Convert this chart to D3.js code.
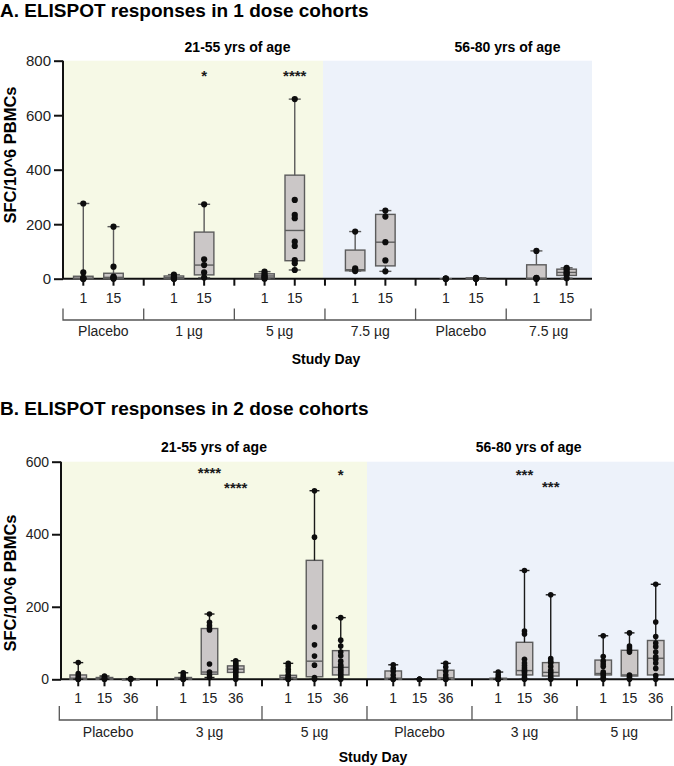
<!DOCTYPE html>
<html>
<head>
<meta charset="utf-8">
<script src="https://cdn.jsdelivr.net/npm/d3@7"></script>
<style>
  body { margin: 0; background: #fff; }
  svg { display: block; font-family: "Liberation Sans", Arial, sans-serif; }
</style>
</head>
<body>
<div id="chart"></div>
<script>
// ---- data ----
const ageLabels = ["21-55 yrs of age", "56-80 yrs of age"];

const groupsA = ["Placebo", "1 \u00b5g", "5 \u00b5g", "7.5 \u00b5g", "Placebo", "7.5 \u00b5g"];
const daysA = ["1", "15"];
// individual responses, one list per box (group x day)
const pointsA = [
  [276, 23, 3, 0, 0, 0], [191, 44, 8, 5, 2, 0],
  [15, 9, 4, 0, 0], [273, 71, 50, 23, 4],
  [26, 18, 12, 8, 3, 0], [659, 289, 234, 222, 136, 120, 68, 57, 32],
  [173, 38, 32, 28], [250, 228, 134, 67, 27],
  [0, 0, 0], [3, 1, 0, 0],
  [102, 3, 2, 0, 0], [40, 35, 26, 20, 15, 2]
];
// [q1, median, q3]
const boxA = [
  [0, 2, 9], [1, 5, 20],
  [0, 4, 10], [14, 50, 171],
  [3, 10, 18], [66, 177, 380],
  [29, 33, 105], [47, 134, 236],
  null, [0, 1, 3],
  [0, 2, 51], [12, 23, 35]
];
const starsA = [
  { i: 3, text: "*", v: 756 },
  { i: 5, text: "****", v: 756 }
];
const yTicksA = [0, 200, 400, 600, 800];

const groupsB = ["Placebo", "3 \u00b5g", "5 \u00b5g", "Placebo", "3 \u00b5g", "5 \u00b5g"];
const daysB = ["1", "15", "36"];
const pointsB = [
  [46, 16, 9, 3, 0, 0], [9, 6, 3, 0, 0], [2, 0, 0],
  [18, 12, 6, 2, 0, 0], [180, 157, 148, 140, 136, 42, 20, 12, 5], [51, 46, 42, 38, 33, 30, 26, 22, 18, 12, 6, 0],
  [44, 37, 28, 21, 12, 8, 4, 0, 0], [520, 392, 144, 95, 64, 39, 5, 0], [170, 108, 92, 75, 65, 50, 40, 35, 30, 25, 20, 15, 10, 5, 0],
  [40, 30, 22, 12, 3, 0, 0], [0, 0, 0, 0], [44, 34, 22, 12, 4, 0, 0],
  [20, 12, 5, 0, 0, 0], [300, 133, 125, 55, 45, 38, 32, 26, 22, 18, 12, 5, 0], [233, 57, 50, 45, 35, 25, 18, 12, 5, 0],
  [120, 63, 50, 42, 35, 20, 15, 12, 5, 0], [128, 92, 86, 80, 75, 12, 8, 3, 0], [262, 158, 118, 100, 90, 75, 62, 55, 45, 30, 10, 0]
];
const boxB = [
  [0, 3, 12], [0, 2, 5], [0, 0, 1],
  [0, 2, 5], [14, 20, 140], [19, 28, 37],
  [1, 5, 11], [7, 50, 328], [12, 33, 79],
  [0, 3, 23], null, [0, 4, 25],
  [0, 0, 3], [12, 24, 102], [9, 19, 46],
  [12, 16, 53], [9, 12, 80], [12, 58, 107]
];
const starsB = [
  { i: 4, text: "****", v: 578 },
  { i: 5, text: "****", v: 537 },
  { i: 8, text: "*", v: 573 },
  { i: 13, text: "***", v: 573 },
  { i: 14, text: "***", v: 541 }
];
const yTicksB = [0, 200, 400, 600];

// ---- drawing ----
const width = 674, height = 766;
const greenBg = "#f6f9e6", blueBg = "#edf2fa";
const boxFill = "#cbc7c7", boxStroke = "#5c5c5c";

const svg = d3.select("#chart").append("svg")
  .attr("width", width).attr("height", height)
  .attr("viewBox", [0, 0, width, height]);

function drawPanel(p) {
  const nDays = p.days.length;
  const per = nDays + 1; // one empty slot between groups
  const slot = i => i + Math.floor(i / nDays);

  const x = d3.scaleLinear().domain(p.xDomain).range([p.left, p.right]);
  const y = d3.scaleLinear().domain([0, p.yMax]).range([p.bottom, p.top]);
  const mid = x(p.groups.length / 2 * per - 1) + p.bgShift;

  const g = svg.append("g");

  // title
  g.append("text")
    .attr("x", 0).attr("y", p.titleY)
    .attr("font-size", 19).attr("font-weight", "bold")
    .text(p.title);

  // backgrounds
  g.append("rect").attr("x", p.left).attr("y", p.top)
    .attr("width", mid - p.left).attr("height", p.bottom - p.top).attr("fill", greenBg);
  g.append("rect").attr("x", mid).attr("y", p.top)
    .attr("width", p.right - mid).attr("height", p.bottom - p.top).attr("fill", blueBg);

  // age labels
  g.selectAll(".age").data(ageLabels).join("text")
    .attr("x", (d, i) => p.ageX[i]).attr("y", p.ageY)
    .attr("text-anchor", "middle").attr("font-size", 14).attr("font-weight", "bold")
    .text(d => d);

  // y axis
  const yAxis = g.append("g")
    .attr("transform", `translate(${p.left},0)`)
    .call(d3.axisLeft(y).tickValues(p.yTicks).tickSize(9).tickPadding(3));
  yAxis.select(".domain").attr("stroke", "#111").attr("stroke-width", 2)
    .attr("d", `M0,${p.bottom}V${p.top}`);
  yAxis.selectAll(".tick line").attr("stroke", "#111").attr("stroke-width", 2);
  yAxis.selectAll(".tick text").attr("font-size", p.yFont).attr("fill", "#222")
    .attr("font-family", "Liberation Sans, Arial, sans-serif");

  // x axis line and ticks
  const nSlots = p.groups.length * per - 1;
  g.append("line")
    .attr("x1", p.left).attr("x2", Math.min(p.right, x(nSlots - 0.15)))
    .attr("y1", p.bottom).attr("y2", p.bottom)
    .attr("stroke", "#111").attr("stroke-width", 2);
  g.selectAll(".xt").data(d3.range(nSlots)).join("line")
    .attr("x1", d => x(d)).attr("x2", d => x(d))
    .attr("y1", p.bottom).attr("y2", p.bottom + 7)
    .attr("stroke", "#111").attr("stroke-width", 2);

  // day labels
  const boxes = p.points.map((pts, i) => ({ pts, box: p.box[i], k: slot(i), day: p.days[i % nDays] }));
  g.selectAll(".day").data(boxes).join("text")
    .attr("x", d => x(d.k)).attr("y", p.dayY)
    .attr("text-anchor", "middle").attr("font-size", 14).attr("fill", "#222")
    .text(d => d.day);

  // group brackets
  const edges = d3.range(p.groups.length + 1).map(j => j === 0 ? p.left - p.bracketPad
    : j === p.groups.length ? p.bracketRight : x(j * per - 1));
  g.append("path")
    .attr("fill", "none").attr("stroke", "#555").attr("stroke-width", 1.3)
    .attr("d", `M${edges[0]},${p.bracketY1}V${p.bracketY2}H${edges[edges.length - 1]}V${p.bracketY1}` +
      edges.slice(1, -1).map(e => `M${e},${p.bracketY1}V${p.bracketY2}`).join(""));
  g.selectAll(".grp").data(p.groups).join("text")
    .attr("x", (d, j) => (edges[j] + edges[j + 1]) / 2).attr("y", p.groupY)
    .attr("text-anchor", "middle").attr("font-size", 14).attr("fill", "#222")
    .text(d => d);

  // axis titles
  g.append("text")
    .attr("x", p.studyX).attr("y", p.studyY)
    .attr("text-anchor", "middle").attr("font-size", 14).attr("font-weight", "bold")
    .text("Study Day");
  g.append("text")
    .attr("transform", `translate(${p.yTitleX},${p.yTitleY}) rotate(-90)`)
    .attr("text-anchor", "middle").attr("dominant-baseline", "central")
    .attr("font-size", 16.5).attr("font-weight", "bold")
    .text("SFC/10^6 PBMCs");

  // boxes
  const bw = p.boxW, cw = p.capW;
  const bg = g.selectAll(".bx").data(boxes).join("g");
  bg.filter(d => d.box).append("rect")
    .attr("x", d => x(d.k) - bw / 2).attr("width", bw)
    .attr("y", d => y(d.box[2])).attr("height", d => Math.max(1, y(d.box[0]) - y(d.box[2])))
    .attr("fill", boxFill).attr("stroke", boxStroke).attr("stroke-width", 1.4);
  bg.filter(d => d.box).append("line")
    .attr("x1", d => x(d.k) - bw / 2).attr("x2", d => x(d.k) + bw / 2)
    .attr("y1", d => y(d.box[1])).attr("y2", d => y(d.box[1]))
    .attr("stroke", boxStroke).attr("stroke-width", 1.4);
  // whiskers min-max
  bg.append("line")
    .attr("x1", d => x(d.k)).attr("x2", d => x(d.k))
    .attr("y1", d => y(d3.max(d.pts))).attr("y2", d => y(d.box ? d.box[2] : d3.min(d.pts)))
    .attr("stroke", p.whisker).attr("stroke-width", 1.4);
  bg.append("line")
    .attr("x1", d => x(d.k)).attr("x2", d => x(d.k))
    .attr("y1", d => y(d3.min(d.pts))).attr("y2", d => y(d.box ? d.box[0] : d3.min(d.pts)))
    .attr("stroke", p.whisker).attr("stroke-width", 1.4);
  bg.selectAll(".cap").data(d => [[d.k, d3.max(d.pts)], [d.k, d3.min(d.pts)]]).join("line")
    .attr("x1", d => x(d[0]) - cw / 2).attr("x2", d => x(d[0]) + cw / 2)
    .attr("y1", d => y(d[1])).attr("y2", d => y(d[1]))
    .attr("stroke", p.whisker).attr("stroke-width", 1.4);
  // dots
  bg.selectAll("circle").data(d => d.pts.map(v => ({ k: d.k, v }))).join("circle")
    .attr("cx", d => x(d.k)).attr("cy", d => y(d.v)).attr("r", p.dotR)
    .attr("fill", "#0d0d0d");

  // significance
  g.selectAll(".star").data(p.stars).join("text")
    .attr("x", d => x(slot(d.i))).attr("y", d => y(d.v) + 8.5)
    .attr("text-anchor", "middle").attr("font-size", 15).attr("font-weight", "bold").attr("fill", "#1a1a1a")
    .text(d => d.text);
}

drawPanel({
  title: "A. ELISPOT responses in 1 dose cohorts", titleY: 16.5,
  groups: groupsA, days: daysA, points: pointsA, box: boxA, stars: starsA,
  yTicks: yTicksA, yMax: 800, yFont: 15,
  left: 63, right: 592, top: 60.7, bottom: 278.7,
  xDomain: [-0.672, 16.84], bgShift: -2,
  ageX: [237.5, 507.5], ageY: 52,
  dayY: 302.5, bracketY1: 308.5, bracketY2: 320, bracketPad: 0, bracketRight: 591,
  groupY: 335.7, studyX: 326, studyY: 363.5,
  yTitleX: 10, yTitleY: 155,
  boxW: 19.5, capW: 12, dotR: 3.1, whisker: "#5a5a5a"
});

drawPanel({
  title: "B. ELISPOT responses in 2 dose cohorts", titleY: 415,
  groups: groupsB, days: daysB, points: pointsB, box: boxB, stars: starsB,
  yTicks: yTicksB, yMax: 600, yFont: 14,
  left: 61, right: 674, top: 461.7, bottom: 679.3,
  xDomain: [-0.657, 22.696], bgShift: 0,
  ageX: [214, 528.7], ageY: 452,
  dayY: 703.3, bracketY1: 706, bracketY2: 720, bracketPad: 1.7, bracketRight: 671.7,
  groupY: 736.7, studyX: 373, studyY: 762,
  yTitleX: 9.5, yTitleY: 583,
  boxW: 16.5, capW: 10, dotR: 2.8, whisker: "#1a1a1a"
});
</script>
</body>
</html>
